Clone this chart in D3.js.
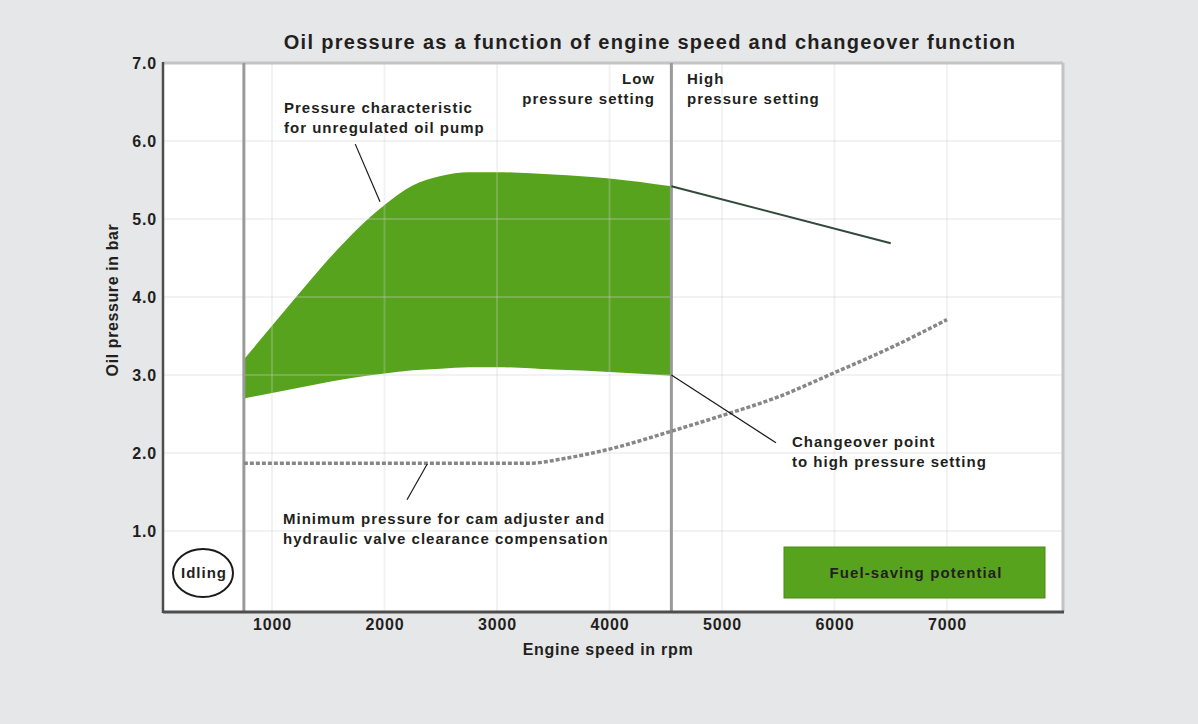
<!DOCTYPE html>
<html>
<head>
<meta charset="utf-8">
<script src="https://cdn.jsdelivr.net/npm/d3@7"></script>
<style>
  html, body { margin: 0; padding: 0; background: #e6e7e9; }
  svg { display: block; }
  text { font-family: "Liberation Sans", Arial, Helvetica, sans-serif; font-weight: bold; fill: #231f20; }
</style>
</head>
<body>
<svg id="chart" width="1198" height="724"></svg>
<script>
// ---------- DATA ----------
const title = "Oil pressure as a function of engine speed and changeover function";
const xTicks = [1000, 2000, 3000, 4000, 5000, 6000, 7000];
const yTicks = [1.0, 2.0, 3.0, 4.0, 5.0, 6.0, 7.0];
const idleRpm = 750;
const changeoverRpm = 4550;

// Unregulated pump band (low pressure setting region)
const bandRpm   = [750, 1000, 1250, 1500, 1750, 2000, 2250, 2500, 2750, 3000, 3500, 4000, 4550];
const bandUpper = [3.2, 3.63, 4.06, 4.48, 4.86, 5.18, 5.43, 5.55, 5.6, 5.6, 5.57, 5.52, 5.42];
const bandLower = [2.7, 2.77, 2.84, 2.91, 2.97, 3.02, 3.06, 3.08, 3.1, 3.1, 3.07, 3.04, 2.99];

// High pressure setting line
const highRpm = [4550, 6500];
const highVal = [5.42, 4.69];

// Minimum pressure for cam adjuster / hydraulic valve clearance compensation
const minRpm = [750, 1500, 2500, 3300, 3600, 4000, 4550, 5000, 5500, 6000, 6500, 7000];
const minVal = [1.87, 1.87, 1.87, 1.87, 1.93, 2.05, 2.28, 2.48, 2.72, 3.03, 3.35, 3.71];

// Annotations
const noteCharacteristic = ["Pressure characteristic", "for unregulated oil pump"];
const noteLow = ["Low", "pressure setting"];
const noteHigh = ["High", "pressure setting"];
const noteChangeover = ["Changeover point", "to high pressure setting"];
const noteMinimum = ["Minimum pressure for cam adjuster and", "hydraulic valve clearance compensation"];
const leaderCharacteristic = [[1740, 5.96], [1960, 5.22]];
const leaderChangeover = [[4550, 3.0], [5480, 2.13]];
const leaderMinimum = [[2380, 1.86], [2200, 1.4]];
const legendLabel = "Fuel-saving potential";
const idleLabel = "Idling";
const xTitle = "Engine speed in rpm";
const yTitle = "Oil pressure in bar";

// ---------- LAYOUT ----------
const svg = d3.select("#chart");
const plot = { left: 163, right: 1063, top: 63, bottom: 612 };
const x = d3.scaleLinear().domain([1000, 7000]).range([272, 947]);
const y = d3.scaleLinear().domain([0, 7]).range([609, 63]);
const green = "#58a31d";
const annoSize = 15, annoSpacing = 1.0;

// plot background
svg.append("rect")
  .attr("x", plot.left).attr("y", plot.top)
  .attr("width", plot.right - plot.left).attr("height", plot.bottom - plot.top)
  .attr("fill", "#ffffff");

// green band
const bandData = bandRpm.map((r, i) => ({ r, u: bandUpper[i], l: bandLower[i] }));
svg.append("path")
  .datum(bandData)
  .attr("fill", green)
  .attr("d", d3.area().curve(d3.curveMonotoneX)
    .x(d => x(d.r)).y0(d => y(d.l)).y1(d => y(d.u)));

// gridlines (faint, drawn on top)
const grid = svg.append("g").attr("stroke", "#cfcfcf").attr("stroke-opacity", 0.28).attr("stroke-width", 2);
xTicks.forEach(t => grid.append("line").attr("x1", x(t)).attr("x2", x(t)).attr("y1", plot.top).attr("y2", plot.bottom));
yTicks.forEach(t => grid.append("line").attr("x1", plot.left).attr("x2", plot.right).attr("y1", y(t)).attr("y2", y(t)));

// plot borders
svg.append("line").attr("x1", plot.left).attr("x2", plot.right).attr("y1", plot.top).attr("y2", plot.top)
  .attr("stroke", "#c4c4c4").attr("stroke-width", 3);
svg.append("line").attr("x1", plot.right).attr("x2", plot.right).attr("y1", plot.top).attr("y2", plot.bottom)
  .attr("stroke", "#c4c4c4").attr("stroke-width", 3);

// vertical markers (idle and changeover)
[idleRpm, changeoverRpm].forEach(r => {
  svg.append("line").attr("x1", x(r)).attr("x2", x(r)).attr("y1", plot.top).attr("y2", plot.bottom)
    .attr("stroke", "#9a9a9a").attr("stroke-width", 3);
});

// high pressure line
svg.append("path")
  .datum(highRpm.map((r, i) => [r, highVal[i]]))
  .attr("fill", "none").attr("stroke", "#34493d").attr("stroke-width", 2)
  .attr("d", d3.line().x(d => x(d[0])).y(d => y(d[1])));

// minimum pressure dotted line
svg.append("path")
  .datum(minRpm.map((r, i) => [r, minVal[i]]))
  .attr("fill", "none").attr("stroke", "#878787").attr("stroke-width", 3.5)
  .attr("stroke-dasharray", "4 2")
  .attr("d", d3.line().curve(d3.curveMonotoneX).x(d => x(d[0])).y(d => y(d[1])));

// axes
function styleTicks(g) {
  g.select(".domain").remove();
  g.selectAll("text")
    .attr("font-size", 16)
    .style("font-family", "'Liberation Sans', Arial, sans-serif")
    .style("font-weight", "bold")
    .style("letter-spacing", "0.8px")
    .attr("fill", "#231f20");
}
const yAxis = svg.append("g").attr("transform", `translate(${plot.left},0)`)
  .call(d3.axisLeft(y).tickValues(yTicks).tickFormat(d3.format(".1f")).tickSize(0).tickPadding(6));
styleTicks(yAxis);
svg.append("line").attr("x1", plot.left).attr("x2", plot.left).attr("y1", plot.top - 1).attr("y2", plot.bottom + 1)
  .attr("stroke", "#4d4d4d").attr("stroke-width", 2.5);

const xAxis = svg.append("g").attr("transform", `translate(0,${plot.bottom})`)
  .call(d3.axisBottom(x).tickValues(xTicks).tickFormat(d3.format("d")).tickSize(0).tickPadding(7));
styleTicks(xAxis);
svg.append("line").attr("x1", plot.left).attr("x2", plot.right + 1).attr("y1", plot.bottom).attr("y2", plot.bottom)
  .attr("stroke", "#4d4d4d").attr("stroke-width", 3);

// titles
svg.append("text").attr("x", 650).attr("y", 49).attr("text-anchor", "middle")
  .attr("font-size", 20).style("letter-spacing", "1.3px").text(title);
svg.append("text").attr("x", 608).attr("y", 655).attr("text-anchor", "middle")
  .attr("font-size", 16).style("letter-spacing", "0.7px").text(xTitle);
svg.append("text").attr("transform", "translate(118,300) rotate(-90)").attr("text-anchor", "middle")
  .attr("font-size", 16).style("letter-spacing", "0.6px").text(yTitle);

// annotation helper
function note(lines, px, py, anchor) {
  const t = svg.append("text").attr("x", px).attr("y", py).attr("text-anchor", anchor)
    .attr("font-size", annoSize).style("letter-spacing", annoSpacing + "px");
  lines.forEach((s, i) => t.append("tspan").attr("x", px).attr("dy", i === 0 ? 0 : 20).text(s));
}
function leader(pts) {
  svg.append("line").attr("x1", x(pts[0][0])).attr("y1", y(pts[0][1]))
    .attr("x2", x(pts[1][0])).attr("y2", y(pts[1][1]))
    .attr("stroke", "#1a1a1a").attr("stroke-width", 1.2);
}
note(noteCharacteristic, 284, 113, "start");
note(noteLow, 655, 84, "end");
note(noteHigh, 687, 84, "start");
note(noteChangeover, 792, 447, "start");
note(noteMinimum, 283, 524, "start");
leader(leaderCharacteristic);
leader(leaderChangeover);
leader(leaderMinimum);

// idling
svg.append("ellipse").attr("cx", 203).attr("cy", 573).attr("rx", 30).attr("ry", 24)
  .attr("fill", "none").attr("stroke", "#1a1a1a").attr("stroke-width", 2);
svg.append("text").attr("x", 204).attr("y", 578).attr("text-anchor", "middle")
  .attr("font-size", annoSize).style("letter-spacing", annoSpacing + "px").text(idleLabel);

// legend box
svg.append("rect").attr("x", 784).attr("y", 547).attr("width", 261).attr("height", 51)
  .attr("fill", green).attr("stroke", "#4a8a1a").attr("stroke-width", 1);
svg.append("text").attr("x", 916).attr("y", 578).attr("text-anchor", "middle")
  .attr("font-size", annoSize).style("letter-spacing", "1.1px").text(legendLabel);
</script>
</body>
</html>
